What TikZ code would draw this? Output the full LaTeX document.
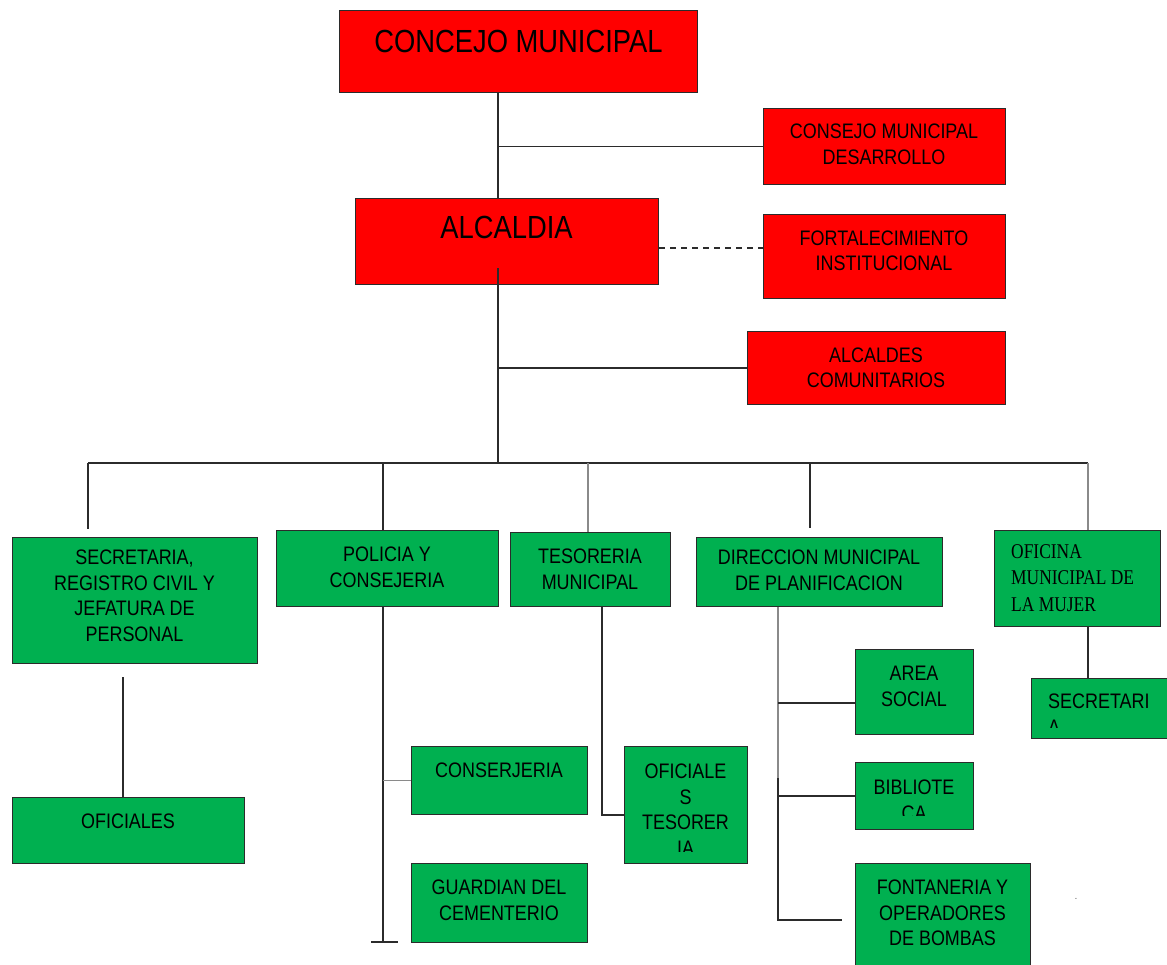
\documentclass[tikz,border=0pt]{standalone}
\usepackage{fontspec}
\setmainfont{Liberation Sans}[FakeStretch=0.855]
\newfontfamily\narrowserif{Liberation Serif}[FakeStretch=0.83]
\definecolor{orgred}{HTML}{FF0000}
\definecolor{orggreen}{HTML}{00B050}
\definecolor{linedark}{HTML}{2B2B2B}
\definecolor{linegray}{HTML}{8A8A8A}
\tikzset{
  boxbase/.style={draw=linedark, line width=1.3pt, inner sep=0pt, anchor=north west},
  redbox/.style={boxbase, fill=orgred},
  greenbox/.style={boxbase, fill=orggreen},
  txt/.style={font=\fontsize{21}{25.5}\selectfont, align=center, inner sep=0pt, anchor=north},
  txtleft/.style={font=\fontsize{21}{25.5}\selectfont, align=left, inner sep=0pt, anchor=north west},
  serifleft/.style={font=\narrowserif\fontsize{21}{26.5}\selectfont, align=left, inner sep=0pt, anchor=north west},
  bigtxt/.style={font=\fontsize{32}{38}\selectfont, inner sep=0pt, anchor=north},
  conn/.style={draw=linedark, line width=1.4pt},
  conngray/.style={draw=linegray, line width=1.4pt},
}
\begin{document}
\begin{tikzpicture}[x=1pt,y=-1pt]
\clip (0,0) rectangle (1167,964);
\fill[white] (0,0) rectangle (1167,964);

% ---------- red boxes ----------
\node[redbox, minimum width=358, minimum height=82] (concejo) at (339,10) {};
\node[redbox, minimum width=303, minimum height=86] (alcaldia) at (355,198) {};
\node[redbox, minimum width=242, minimum height=76] (consejo) at (763,108) {};
\node[redbox, minimum width=242, minimum height=84] (fort) at (763,214) {};
\node[redbox, minimum width=258, minimum height=73] (alcaldes) at (747,331) {};

\node[bigtxt] (tconcejo) at (518.5,30) {CONCEJO MUNICIPAL};
\node[bigtxt] (talcaldia) at (506.5,216) {ALCALDIA};
\node[txt] (tconsejo) at (884,124) {CONSEJO MUNICIPAL\\DESARROLLO};
\node[txt] (tfort) at (884,230.5) {FORTALECIMIENTO\\INSTITUCIONAL};
\node[txt] (talcaldes) at (876,347.5) {ALCALDES\\COMUNITARIOS};

% ---------- green boxes ----------
\node[greenbox, minimum width=245, minimum height=126] (secr) at (12,537) {};
\node[greenbox, minimum width=222, minimum height=76] (policia) at (276,530) {};
\node[greenbox, minimum width=160, minimum height=74] (teso) at (510,532) {};
\node[greenbox, minimum width=246, minimum height=69] (dir) at (696,537) {};
\node[greenbox, minimum width=166, minimum height=96] (ofic) at (994,530) {};
\node[greenbox, minimum width=232, minimum height=66] (oficiales) at (12,797) {};
\node[greenbox, minimum width=176, minimum height=68] (conserj) at (411,746) {};
\node[greenbox, minimum width=176, minimum height=79] (guard) at (411,863) {};
\node[greenbox, minimum width=123, minimum height=117] (ofteso) at (624,746) {};
\node[greenbox, minimum width=118, minimum height=85] (area) at (855,649) {};
\node[greenbox, minimum width=118, minimum height=67] (biblio) at (855,762) {};
\node[greenbox, minimum width=175, minimum height=115] (fonta) at (855,863) {};
\node[greenbox, minimum width=145, minimum height=60] (secr2) at (1031,678) {};

\node[txt] (tsecr) at (134.5,550) {SECRETARIA,\\REGISTRO CIVIL Y\\JEFATURA DE\\PERSONAL};
\node[txt] (tpolicia) at (387,547) {POLICIA Y\\CONSEJERIA};
\node[txt] (tteso) at (590,549) {TESORERIA\\MUNICIPAL};
\node[txt] (tdir) at (819,550) {DIRECCION MUNICIPAL\\DE PLANIFICACION};
\node[serifleft] (tofic) at (1011,544) {OFICINA\\MUNICIPAL DE\\LA MUJER};
\node[txt] (toficiales) at (128,814) {OFICIALES};
\node[txt] (tconserj) at (499,763) {CONSERJERIA};
\node[txt] (tguard) at (499,880) {GUARDIAN DEL\\CEMENTERIO};
\node[txt] (tarea) at (914,666) {AREA\\SOCIAL};
\node[txt] (tfonta) at (942.5,880) {FONTANERIA Y\\OPERADORES\\DE BOMBAS};
\begin{scope}
  \clip (624,746) rectangle (747,851);
  \node[txt] (tofteso) at (685.5,764) {OFICIALE\\S\\TESORER\\IA};
\end{scope}
\begin{scope}
  \clip (855,762) rectangle (973,815);
  \node[txt] (tbiblio) at (914,780) {BIBLIOTE\\CA};
\end{scope}
\begin{scope}
  \clip (1031,678) rectangle (1167,727);
  \node[txtleft] (tsecr2) at (1048,694) {SECRETARI\\A};
\end{scope}

% ---------- connectors ----------
\coordinate (trunk) at (498,0);
\coordinate (dashy) at (0,248);
\coordinate (alcstub) at (498,268);
\coordinate (bus) at (0,463);
\coordinate (busL) at (88,463);
\coordinate (busR) at (1088,463);
\coordinate (dropA) at (88,529);
\coordinate (dropD) at (810,528);
\coordinate (dropDtop) at (810,463);

\draw[conn] (trunk |- concejo.south) -- (trunk |- alcaldia.north);
\draw[conn] (trunk |- consejo.west) -- (consejo.west);
\draw[conn, dashed, dash pattern=on 6pt off 5pt] (alcaldia.east |- dashy) -- (fort.west |- dashy);
\draw[conn] (alcstub) -- (trunk |- bus);
\draw[conn] (trunk |- alcaldes.west) -- (alcaldes.west);
\draw[conn] (busL) -- (busR);
\draw[conn] (busL) -- (dropA);
\draw[conn] (policia.north -| 383,0) -- (383,463);
\draw[conngray] (teso.north -| 588,0) -- (588,463);
\draw[conn] (dropDtop) -- (dropD);
\draw[conngray] (busR) -- (busR |- ofic.north);

% secretaria -> oficiales
\coordinate (secrOut) at (123,677);
\draw[conn] (secrOut) -- (secrOut |- oficiales.north);

% policia branch
\coordinate (polX) at (383,0);
\coordinate (polEnd) at (383,942);
\coordinate (tickL) at (371,942);
\coordinate (tickR) at (398,942);
\draw[conn] (polX |- policia.south) -- (polEnd);
\draw[conn] (tickL) -- (tickR);
\draw[conngray] (polX |- conserj.west) -- (conserj.west);

% tesoreria branch
\coordinate (tesX) at (602,0);
\coordinate (tesY) at (0,815);
\draw[conn] (tesX |- teso.south) -- (tesX |- tesY) -- (ofteso.west |- tesY);

% direccion branch
\coordinate (dirX) at (778,0);
\coordinate (areaY) at (0,703);
\coordinate (fontEnd) at (842,920);
\draw[conngray] (dirX |- dir.south) -- (dirX |- 0,778);
\draw[conn] (dirX |- 0,778) -- (dirX |- fontEnd) -- (fontEnd);
\draw[conn] (dirX |- areaY) -- (area.west |- areaY);
\draw[conn] (dirX |- biblio.west) -- (biblio.west);

% oficina branch
\draw[conn] (busR |- ofic.south) -- (busR |- secr2.north);

% stray dot
\node[inner sep=0pt, font=\fontsize{10}{12}\selectfont, text=black!70] (dot) at (1076,899) {.};
\end{tikzpicture}
\end{document}
